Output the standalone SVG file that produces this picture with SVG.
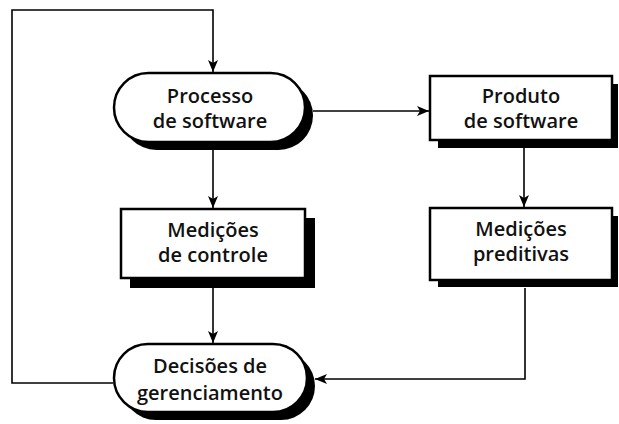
<svg xmlns="http://www.w3.org/2000/svg" width="619" height="424" viewBox="0 0 619 424">
<style>
.shadow{fill:#000}
.shape{fill:#fff;stroke:#000;stroke-width:2.5}
.lbl{font-family:"Open Sans","Liberation Sans",sans-serif;font-size:20px;font-weight:600;fill:#111;text-anchor:middle}
.conn{fill:none;stroke:#000;stroke-width:1.6}
</style>
<defs>
<marker id="ah" viewBox="0 0 12 10" refX="12" refY="5" markerWidth="12" markerHeight="10" markerUnits="userSpaceOnUse" orient="auto">
<path d="M0,0 L12,5 L0,10 L3,5 Z" fill="#000"/>
</marker>
</defs>
<rect width="619" height="424" fill="#fff"/>
<g id="connectors">
<path class="conn" d="M113,383 H12 V10 H213 V72" marker-end="url(#ah)"/>
<path class="conn" d="M313,111 H429" marker-end="url(#ah)"/>
<path class="conn" d="M213,150 V208" marker-end="url(#ah)"/>
<path class="conn" d="M524,148 V207" marker-end="url(#ah)"/>
<path class="conn" d="M213,287 V343" marker-end="url(#ah)"/>
<path class="conn" d="M525,288 V379 H315" marker-end="url(#ah)"/>
</g>
<g id="processo">
<rect class="shadow" x="122" y="81" width="191" height="69" rx="34.5"/>
<rect class="shape" x="114" y="73" width="191" height="69" rx="34.5"/>
<text class="lbl" x="210" y="103">Processo</text>
<text class="lbl" x="210" y="128">de software</text>
</g>
<g id="produto">
<rect class="shadow" x="438" y="84" width="180" height="64"/>
<rect class="shape" x="430" y="76" width="182" height="64"/>
<text class="lbl" x="521" y="103">Produto</text>
<text class="lbl" x="521" y="128">de software</text>
</g>
<g id="controle">
<rect class="shadow" x="130" y="218" width="185" height="70"/>
<rect class="shape" x="121" y="209" width="184" height="69"/>
<text class="lbl" x="213" y="237">Medições</text>
<text class="lbl" x="213" y="262">de controle</text>
</g>
<g id="preditivas">
<rect class="shadow" x="438" y="216" width="180" height="71"/>
<rect class="shape" x="430" y="208" width="182" height="72"/>
<text class="lbl" x="521" y="236">Medições</text>
<text class="lbl" x="521" y="261">preditivas</text>
</g>
<g id="decisoes">
<rect class="shadow" x="122" y="352" width="193" height="68" rx="34"/>
<rect class="shape" x="114" y="344" width="193" height="68" rx="34"/>
<text class="lbl" x="210" y="373">Decisões de</text>
<text class="lbl" x="210" y="400">gerenciamento</text>
</g>
</svg>
